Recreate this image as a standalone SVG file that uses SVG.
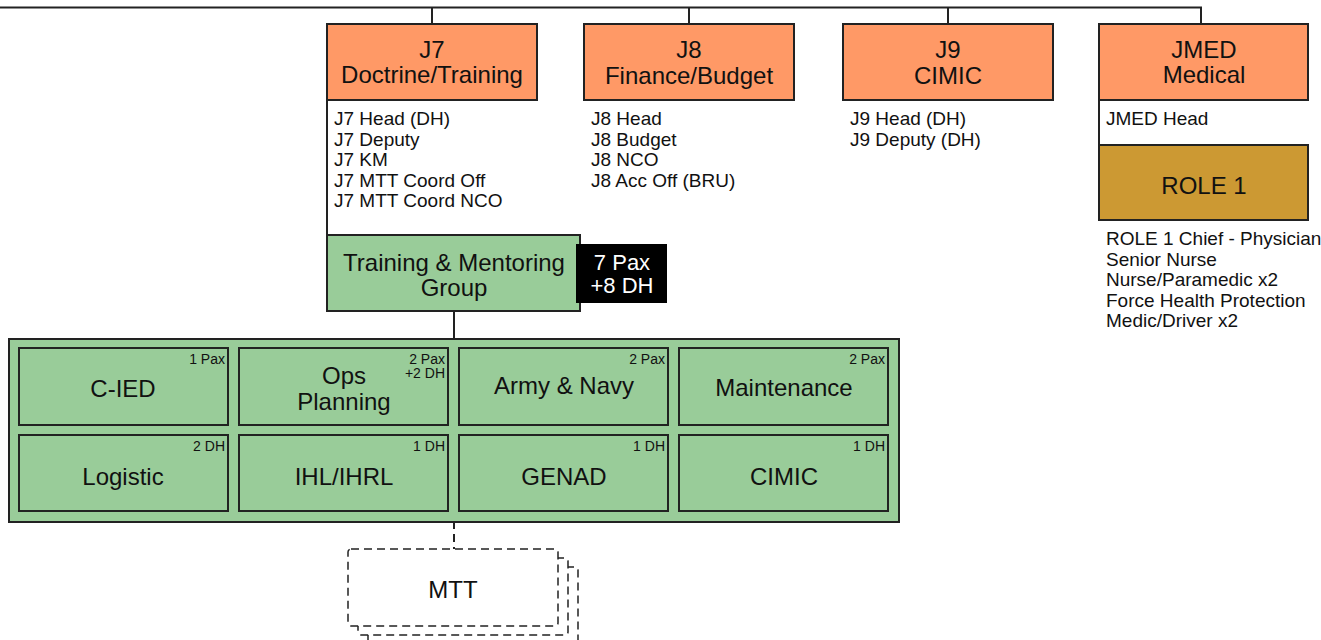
<svg xmlns="http://www.w3.org/2000/svg" width="1321" height="640" viewBox="0 0 1321 640">
<style>
text{font-family:"Liberation Sans Narrow","Arial Narrow","Liberation Sans",sans-serif;font-stretch:condensed;fill:#111}
.t{font-size:24px;text-anchor:middle}
.l{font-size:19px}
.s{font-size:14px;text-anchor:end}
.w{fill:#fff}
.o{fill:#FF9966;stroke:#222;stroke-width:2}
.g{fill:#99CC99;stroke:#222;stroke-width:2}
.r{fill:#CC9933;stroke:#222;stroke-width:2}
.ln{stroke:#222;stroke-width:2;fill:none}
.d{stroke:#222;stroke-width:1.5;fill:#fff;stroke-dasharray:8,5}
</style>
<rect width="1321" height="640" fill="#fff"/>
<g id="connectors">
<path class="ln" d="M0 7.5H1201V24M432 7.5V24M689 7.5V24M948 7.5V24"/>
<path class="ln" d="M327 100V235M1099 100V145M454 311V339"/>
<path class="ln" d="M454 521V549" stroke-dasharray="8,5"/>
</g>
<g id="j7">
<rect class="o" x="327" y="24" width="210" height="76"/>
<text class="t" x="432" y="58">J7</text>
<text class="t" x="432" y="83">Doctrine/Training</text>
<text class="l" x="334" y="125">J7 Head (DH)</text>
<text class="l" x="334" y="145.5">J7 Deputy</text>
<text class="l" x="334" y="166">J7 KM</text>
<text class="l" x="334" y="186.5">J7 MTT Coord Off</text>
<text class="l" x="334" y="207">J7 MTT Coord NCO</text>
</g>
<g id="j8">
<rect class="o" x="584" y="24" width="210" height="76"/>
<text class="t" x="689" y="58">J8</text>
<text class="t" x="689" y="84">Finance/Budget</text>
<text class="l" x="591" y="125">J8 Head</text>
<text class="l" x="591" y="145.5">J8 Budget</text>
<text class="l" x="591" y="166">J8 NCO</text>
<text class="l" x="591" y="186.5">J8 Acc Off (BRU)</text>
</g>
<g id="j9">
<rect class="o" x="843" y="24" width="210" height="76"/>
<text class="t" x="948" y="58">J9</text>
<text class="t" x="948" y="84">CIMIC</text>
<text class="l" x="850" y="125">J9 Head (DH)</text>
<text class="l" x="850" y="145.5">J9 Deputy (DH)</text>
</g>
<g id="jmed">
<rect class="o" x="1099" y="24" width="209" height="76"/>
<text class="t" x="1204" y="58">JMED</text>
<text class="t" x="1204" y="83">Medical</text>
<text class="l" x="1106" y="125">JMED Head</text>
</g>
<g id="role1">
<rect class="r" x="1099" y="145" width="209" height="75"/>
<text class="t" x="1204" y="194">ROLE 1</text>
<text class="l" x="1106" y="245">ROLE 1 Chief - Physician</text>
<text class="l" x="1106" y="265.5">Senior Nurse</text>
<text class="l" x="1106" y="286">Nurse/Paramedic x2</text>
<text class="l" x="1106" y="306.5">Force Health Protection</text>
<text class="l" x="1106" y="327">Medic/Driver x2</text>
</g>
<g id="tmg">
<rect class="g" x="327" y="235" width="253" height="76"/>
<text class="t" x="454" y="271">Training &amp; Mentoring</text>
<text class="t" x="454" y="296">Group</text>
</g>
<g id="pax">
<rect x="576" y="244" width="91" height="59" fill="#000"/>
<text class="t w" x="622" y="270" style="font-size:22px">7 Pax</text>
<text class="t w" x="622" y="293" style="font-size:22px">+8 DH</text>
</g>
<g id="container">
<rect class="g" x="9" y="339" width="890" height="183"/>
</g>
<g id="cied">
<rect class="g" x="19" y="348" width="209" height="77"/>
<text class="t" x="123" y="397">C-IED</text>
<text class="s" x="225" y="364">1 Pax</text>
</g>
<g id="ops">
<rect class="g" x="239" y="348" width="209" height="77"/>
<text class="t" x="344" y="384">Ops</text>
<text class="t" x="344" y="410">Planning</text>
<text class="s" x="445" y="364">2 Pax</text>
<text class="s" x="445" y="378">+2 DH</text>
</g>
<g id="army">
<rect class="g" x="459" y="348" width="209" height="77"/>
<text class="t" x="564" y="394">Army &amp; Navy</text>
<text class="s" x="665" y="364">2 Pax</text>
</g>
<g id="maint">
<rect class="g" x="679" y="348" width="209" height="77"/>
<text class="t" x="784" y="396">Maintenance</text>
<text class="s" x="885" y="364">2 Pax</text>
</g>
<g id="logistic">
<rect class="g" x="19" y="435" width="209" height="76"/>
<text class="t" x="123" y="485">Logistic</text>
<text class="s" x="225" y="451">2 DH</text>
</g>
<g id="ihl">
<rect class="g" x="239" y="435" width="209" height="76"/>
<text class="t" x="344" y="485">IHL/IHRL</text>
<text class="s" x="445" y="451">1 DH</text>
</g>
<g id="genad">
<rect class="g" x="459" y="435" width="209" height="76"/>
<text class="t" x="564" y="485">GENAD</text>
<text class="s" x="665" y="451">1 DH</text>
</g>
<g id="cimic">
<rect class="g" x="679" y="435" width="209" height="76"/>
<text class="t" x="784" y="485">CIMIC</text>
<text class="s" x="885" y="451">1 DH</text>
</g>
<g id="mtt">
<rect class="d" x="368" y="567" width="210" height="78" rx="3"/>
<rect class="d" x="358" y="558" width="210" height="77" rx="3"/>
<rect class="d" x="348" y="549" width="210" height="77" rx="3"/>
<text class="t" x="453" y="598">MTT</text>
</g>
</svg>
